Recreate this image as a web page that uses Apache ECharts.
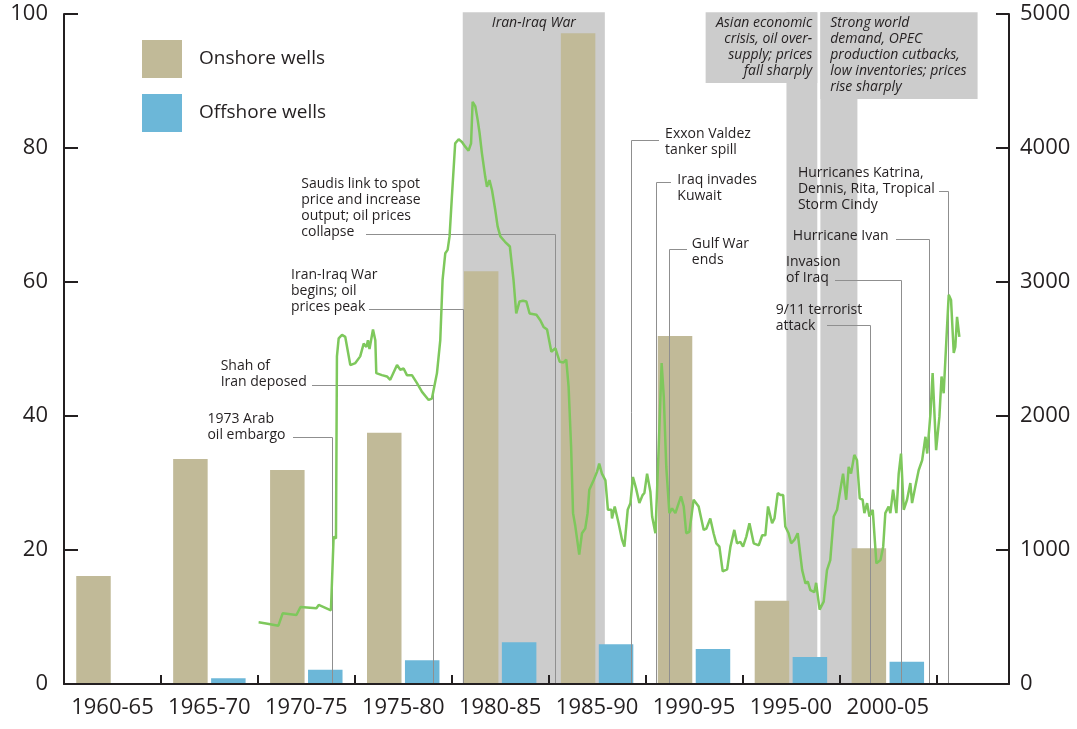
<!DOCTYPE html>
<html>
<head>
<meta charset="utf-8">
<script src="https://cdn.jsdelivr.net/npm/echarts@6/dist/echarts.min.js"></script>
<style>
html,body{margin:0;padding:0;background:#fff;}
#chart{width:1077px;height:729px;}
</style>
</head>
<body>
<div id="chart"></div>
<script>
// ---- Data ----
const periodLabels = ['1960-65','1965-70','1970-75','1975-80','1980-85','1985-90','1990-95','1995-00','2000-05'];
const periodCenters = [1962.5,1967.5,1972.5,1977.5,1982.5,1987.5,1992.5,1997.5,2002.5];
const onshoreWells = [806,1679,1597,1875,3080,4856,2597,622,1013];
const offshoreWells = [null,43,107,177,311,296,261,201,166];
const leftTicks = [0,20,40,60,80,100];
const rightTicks = [0,1000,2000,3000,4000,5000];

// oil price (left axis), [year, value]
const oilPrice = [
[1970.04,9.2],[1970.5,9.0],[1971.06,8.7],[1971.28,10.55],[1971.99,10.3],[1972.2,11.5],[1973.02,11.3],[1973.14,11.8],[1973.77,11.0],
[1973.91,22.0],[1974.03,21.7],[1974.08,48.9],[1974.17,51.6],[1974.34,52.1],[1974.51,51.8],[1974.77,47.6],[1975.03,47.9],[1975.28,48.9],
[1975.46,50.8],[1975.6,50.3],[1975.68,51.3],[1975.76,50.0],[1975.94,52.9],[1976.06,51.3],[1976.11,46.4],[1976.4,46.1],[1976.66,45.9],
[1976.83,45.4],[1977.18,47.6],[1977.35,46.9],[1977.52,47.1],[1977.69,46.1],[1977.95,46.1],[1978.21,44.9],[1978.47,43.6],[1978.81,42.4],
[1978.98,42.6],[1979.24,46.4],[1979.41,51.3],[1979.53,60.3],[1979.67,64.3],[1979.79,64.8],[1979.89,66.8],[1980.01,72.7],[1980.18,80.7],
[1980.36,81.3],[1980.53,80.9],[1980.70,80.2],[1980.87,79.6],[1981.0,80.7],[1981.08,86.9],[1981.22,86.2],[1981.34,84.2],[1981.44,82.2],
[1981.56,79.2],[1981.73,75.7],[1981.82,74.2],[1981.95,75.2],[1982.08,73.7],[1982.25,70.7],[1982.37,68.3],[1982.51,66.8],[1982.75,66.0],
[1983.0,65.3],[1983.19,60.3],[1983.33,55.3],[1983.5,57.1],[1983.68,57.2],[1983.85,57.1],[1984.02,55.3],[1984.37,55.1],[1984.57,54.3],
[1984.74,53.3],[1984.92,52.9],[1985.14,49.6],[1985.35,50.1],[1985.57,48.1],[1985.77,48.0],[1985.91,48.4],[1986.03,44.4],[1986.16,35.4],
[1986.26,25.5],[1986.38,23.5],[1986.58,19.3],[1986.72,22.5],[1986.89,23.2],[1987.01,25.5],[1987.1,29.0],[1987.32,30.4],[1987.5,31.7],
[1987.61,32.9],[1987.75,31.4],[1987.93,30.4],[1988.06,26.0],[1988.24,26.0],[1988.27,24.7],[1988.41,26.5],[1988.61,24.0],[1988.79,21.5],
[1988.91,20.5],[1989.08,26.0],[1989.22,27.0],[1989.35,30.9],[1989.51,29.2],[1989.68,27.0],[1989.85,28.2],[1989.94,28.5],[1990.08,31.4],
[1990.25,28.7],[1990.34,25.0],[1990.51,22.5],[1990.68,35.4],[1990.83,47.9],[1990.94,42.9],[1991.07,32.4],[1991.23,25.5],[1991.37,26.2],
[1991.54,25.5],[1991.71,27.0],[1991.83,28.0],[1991.97,26.5],[1992.1,22.5],[1992.26,22.7],[1992.48,27.5],[1992.74,26.5],[1992.83,26.5],
[1993.0,23.0],[1993.14,23.2],[1993.34,24.7],[1993.51,22.5],[1993.65,21.0],[1993.81,20.5],[1993.98,16.8],[1994.21,17.1],[1994.38,20.5],
[1994.58,23.0],[1994.72,21.0],[1994.89,21.2],[1995.03,20.5],[1995.2,22.0],[1995.36,24.0],[1995.58,21.0],[1995.84,20.7],[1996.02,22.2],
[1996.18,22.2],[1996.32,26.5],[1996.53,24.0],[1996.65,24.7],[1996.82,28.5],[1996.96,28.2],[1997.1,28.2],[1997.21,23.5],[1997.38,22.5],
[1997.51,21.0],[1997.68,21.5],[1997.85,22.5],[1998.08,17.0],[1998.25,15.0],[1998.37,15.3],[1998.5,14.0],[1998.71,13.7],[1998.8,15.1],
[1998.98,11.1],[1999.19,12.3],[1999.36,17.0],[1999.53,18.5],[1999.71,25.0],[1999.88,26.0],[2000.05,29.0],[2000.19,31.4],[2000.35,27.5],
[2000.48,32.4],[2000.6,31.4],[2000.77,34.2],[2000.91,33.4],[2001.05,27.7],[2001.2,27.5],[2001.29,25.5],[2001.43,27.0],[2001.55,25.0],
[2001.72,26.0],[2001.91,18.0],[2002.12,18.5],[2002.26,20.5],[2002.37,25.5],[2002.54,26.5],[2002.63,25.5],[2002.77,29.0],[2002.94,25.5],
[2003.06,31.4],[2003.18,34.4],[2003.32,26.0],[2003.49,27.5],[2003.66,30.0],[2003.75,27.0],[2003.92,29.5],[2004.09,31.9],[2004.27,33.4],
[2004.44,36.9],[2004.53,34.4],[2004.7,40.4],[2004.81,46.4],[2004.99,34.9],[2005.16,39.9],[2005.27,45.9],[2005.38,43.4],[2005.51,50.8],
[2005.64,58.1],[2005.76,57.3],[2005.9,49.4],[2005.98,50.3],[2006.07,54.8],[2006.19,51.8]
];

// shaded periods (years) and their label boxes
const shadedPeriods = [
  {start:1980.57, end:1987.9, bottom:0},
  {start:1997.27, end:1998.86, bottom:0},
  {start:1999.02, end:2000.93, bottom:0},
  {start:1993.1, end:1998.86, bottom:89.7},
  {start:1999.02, end:2007.13, bottom:87.3}
];
const shadeTexts = [
  {text:'Iran-Iraq War', x:1984.24, y:99.8, align:'center'},
  {text:'Asian economic\ncrisis, oil over-\nsupply; prices\nfall sharply', x:1998.6, y:99.8, align:'right'},
  {text:'Strong world\ndemand, OPEC\nproduction cutbacks,\nlow inventories; prices\nrise sharply', x:1999.53, y:99.8, align:'left'}
];

// event annotations: text box top-left, leader start, event year
const annotations = [
  {text:'1973 Arab\noil embargo', tx:1967.40, ty:40.75, lx:1971.81, ly:36.94, ev:1973.85},
  {text:'Shah of\nIran deposed', tx:1968.08, ty:48.66, lx:1972.79, ly:44.63, ev:1979.03},
  {text:'Iran-Iraq War\nbegins; oil\nprices peak', tx:1971.71, ty:62.24, lx:1975.71, ly:55.93, ev:1980.57},
  {text:'Saudis link to spot\nprice and increase\noutput; oil prices\ncollapse', tx:1972.24, ty:75.82, lx:1975.59, ly:67.12, ev:1985.35},
  {text:'Exxon Valdez\ntanker spill', tx:1991.01, ty:83.24, lx:1990.70, ly:81.19, ev:1989.27},
  {text:'Iraq invades\nKuwait', tx:1991.64, ty:76.37, lx:1991.33, ly:74.97, ev:1990.54},
  {text:'Gulf War\nends', tx:1992.39, ty:66.82, lx:1992.16, ly:64.88, ev:1991.19},
  {text:'Hurricanes Katrina,\nDennis, Rita, Tropical\nStorm Cindy', tx:1997.86, ty:77.46, lx:2005.13, ly:73.63, ev:2005.61},
  {text:'Hurricane Ivan', tx:1997.60, ty:68.06, lx:2002.91, ly:66.46, ev:2004.61},
  {text:'Invasion\nof Iraq', tx:1997.25, ty:64.18, lx:1999.76, ly:60.30, ev:2003.2},
  {text:'9/11 terrorist\nattack', tx:1996.72, ty:57.01, lx:1999.35, ly:53.51, ev:2001.6}
];

// ---- Chart ----
const FONT = '"Open Sans", "Noto Sans", sans-serif';
const INK = '#231f20';
const chart = echarts.init(document.getElementById('chart'), null, {renderer:'canvas'});

function crisp(v){ return Math.round(v) + 0.5; }

const option = {
  animation: false,
  textStyle: {fontFamily: FONT, color: INK},
  grid: {left: 64, right: 68, top: 14, bottom: 45, containLabel: false},
  legend: {
    data: ['Onshore wells','Offshore wells'],
    left: 142, top: 40, orient: 'vertical', padding: 0,
    icon: 'rect', itemWidth: 40, itemHeight: 38, itemGap: 16,
    textStyle: {fontSize: 19, fontFamily: FONT, color: INK, padding: [0,0,0,12]},
    selectedMode: false
  },
  xAxis: [
    {
      type: 'value', min: 1960, max: 2008.75, interval: 5, position: 'bottom', z: 10,
      axisLine: {show: true, onZero: false, lineStyle: {color: INK, width: 2}},
      axisTick: {show: true, inside: true, length: 9, lineStyle: {color: INK, width: 2}},
      axisLabel: {show: false},
      splitLine: {show: false}
    },
    {
      type: 'value', min: 1960, max: 2008.75, interval: 2.5, position: 'bottom', z: 10,
      axisLine: {show: false, onZero: false},
      axisTick: {show: false},
      splitLine: {show: false},
      axisLabel: {
        show: true, fontSize: 22, color: INK, fontFamily: FONT, margin: 13,
        showMinLabel: false, showMaxLabel: false,
        formatter: function (v) {
          const i = periodCenters.findIndex(c => Math.abs(c - v) < 0.01);
          return i >= 0 ? periodLabels[i] : '';
        }
      }
    }
  ],
  yAxis: [
    {
      type: 'value', min: leftTicks[0], max: leftTicks[leftTicks.length-1], interval: 20, position: 'left', z: 10,
      axisLine: {show: true, lineStyle: {color: INK, width: 2}},
      axisTick: {show: true, inside: true, length: 14, lineStyle: {color: INK, width: 2}},
      axisLabel: {fontSize: 22, color: INK, fontFamily: FONT, margin: 16, formatter: v => String(v)},
      splitLine: {show: false}
    },
    {
      type: 'value', min: rightTicks[0], max: rightTicks[rightTicks.length-1], interval: 1000, position: 'right', z: 10,
      axisLine: {show: true, lineStyle: {color: INK, width: 2}},
      axisTick: {show: true, inside: true, length: 13, lineStyle: {color: INK, width: 2}},
      axisLabel: {fontSize: 22, color: INK, fontFamily: FONT, margin: 11, formatter: v => String(v)},
      splitLine: {show: false}
    }
  ],
  series: [
    {
      name: 'shading', type: 'custom', xAxisIndex: 0, yAxisIndex: 0, z: 1, silent: true, clip: false,
      data: shadedPeriods.map(p => [p.start, p.bottom]),
      renderItem: function (params, api) {
        const p = shadedPeriods[params.dataIndex];
        const tl = api.coord([p.start, 100.25]);
        const br = api.coord([p.end, p.bottom]);
        const children = [{
          type: 'rect',
          shape: {x: tl[0], y: tl[1], width: br[0]-tl[0], height: br[1]-tl[1]},
          style: {fill: '#cccccc'}
        }];
        if (params.dataIndex === shadedPeriods.length - 1) {
          shadeTexts.forEach(t => {
            const pt = api.coord([t.x, t.y]);
            children.push({
              type: 'text', x: pt[0], y: pt[1], z2: 5,
              style: {text: t.text, fill: INK, font: 'italic 14px ' + FONT, lineHeight: 16, align: t.align, verticalAlign: 'top'}
            });
          });
        }
        return {type: 'group', children: children};
      }
    },
    {
      name: 'Onshore wells', type: 'bar', xAxisIndex: 0, yAxisIndex: 1, z: 2,
      barWidth: 34.5, barGap: '10%',
      itemStyle: {color: '#c1ba98'},
      data: periodCenters.map((c, i) => [c, onshoreWells[i]])
    },
    {
      name: 'Offshore wells', type: 'bar', xAxisIndex: 0, yAxisIndex: 1, z: 2,
      barWidth: 34.5, barGap: '10%',
      itemStyle: {color: '#6cb7d8'},
      data: periodCenters.map((c, i) => [c, offshoreWells[i] == null ? '-' : offshoreWells[i]])
    },
    {
      name: 'annotations', type: 'custom', xAxisIndex: 0, yAxisIndex: 0, z: 3, silent: true, clip: false,
      data: annotations.map(a => [a.ev, a.ly]),
      renderItem: function (params, api) {
        const a = annotations[params.dataIndex];
        const tp = api.coord([a.tx, a.ty]);
        const ls = api.coord([a.lx, a.ly]);
        const ev = api.coord([a.ev, a.ly]);
        const base = api.coord([a.ev, 0]);
        const y = crisp(ls[1]);
        const x = crisp(ev[0]);
        return {type: 'group', children: [
          {type: 'polyline', shape: {points: [[Math.round(ls[0]), y], [x, y], [x, Math.round(base[1])]]},
           style: {stroke: '#8f8f8f', lineWidth: 1, fill: null}},
          {type: 'text', x: tp[0], y: tp[1],
           style: {text: a.text, fill: INK, font: '14px ' + FONT, lineHeight: 16, align: 'left', verticalAlign: 'top'}}
        ]};
      }
    },
    {
      name: 'Oil price', type: 'line', xAxisIndex: 0, yAxisIndex: 0, z: 4,
      showSymbol: false, symbol: 'none',
      lineStyle: {color: '#7ec85c', width: 2.5},
      data: oilPrice
    }
  ]
};
chart.setOption(option);
</script>
</body>
</html>
